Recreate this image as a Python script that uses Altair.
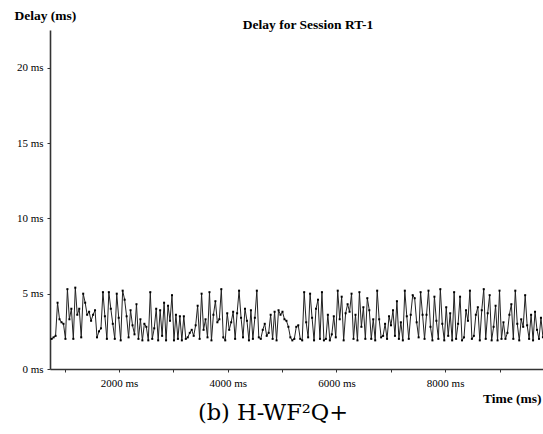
import altair as alt
import pandas as pd

delay_ms = [
    2.0, 2.1, 2.2, 4.4, 3.3, 3.1, 3.0, 2.0, 5.3, 3.3,
    4.0, 2.0, 5.4, 3.6, 4.0, 2.1, 5.0, 4.4, 3.6, 3.8,
    3.2, 3.6, 3.9, 2.1, 2.5, 2.7, 5.1, 3.5, 2.0, 5.1,
    4.0, 3.0, 2.0, 5.0, 3.4, 1.9, 5.2, 4.6, 3.5, 2.1,
    3.9, 2.9, 2.3, 4.3, 2.0, 3.3, 1.9, 3.0, 2.8, 1.9,
    5.1, 2.0, 2.7, 4.0, 1.9, 3.9, 2.2, 4.4, 1.9, 4.2,
    3.2, 4.9, 1.9, 3.6, 2.0, 3.5, 1.9, 3.5, 2.0, 2.1,
    2.4, 2.6, 2.2, 2.9, 4.2, 2.0, 5.0, 2.6, 3.3, 2.1,
    5.1, 1.9, 3.6, 4.5, 3.1, 3.3, 5.3, 2.1, 1.9, 3.7,
    2.6, 3.1, 3.8, 2.0, 3.7, 5.2, 3.4, 2.1, 4.0, 3.2,
    1.9, 3.9, 2.0, 3.4, 5.2, 2.1, 2.0, 2.6, 3.0, 2.2,
    2.4, 3.6, 2.0, 3.8, 1.9, 3.9, 3.6, 3.8, 3.3, 3.2,
    2.8, 2.1, 1.9, 2.0, 2.8, 2.9, 2.0, 1.9, 5.1, 3.1,
    2.1, 5.0, 3.4, 1.9, 4.0, 4.6, 2.0, 5.1, 1.9, 2.0,
    3.6, 1.9, 2.3, 3.5, 2.1, 5.2, 3.3, 4.8, 1.9, 3.7,
    4.3, 3.8, 5.0, 2.0, 3.6, 1.9, 5.1, 2.8, 4.1, 2.0,
    4.7, 3.9, 2.0, 3.3, 1.9, 5.2, 3.3, 2.1, 2.2, 3.0,
    2.0, 3.5, 2.9, 3.9, 2.2, 4.5, 2.0, 3.1, 1.9, 5.2,
    3.5, 2.0, 3.6, 4.9, 4.7, 3.1, 2.1, 5.1, 3.6, 2.0,
    3.6, 5.2, 2.8, 1.9, 4.8, 3.2, 2.0, 5.3, 3.0, 1.9,
    4.1, 2.2, 3.7, 1.9, 5.1, 2.0, 3.0, 4.8, 1.9, 2.1,
    3.9, 3.2, 5.2, 2.0, 2.2, 3.6, 4.1, 1.9, 3.9, 5.3,
    2.0, 3.7, 4.9, 1.9, 2.8, 4.2, 1.9, 5.2, 2.0, 3.1,
    2.0, 2.4, 3.6, 4.3, 2.0, 5.2, 3.0, 1.9, 3.3, 2.8,
    4.9, 2.9, 2.0, 3.6, 1.9, 3.8, 2.6, 2.0, 3.4, 2.1,
]
start_ms = 760
step_ms = 36.3
time_ms = [start_ms + step_ms * i for i in range(len(delay_ms))]

x_ticks = [1000, 2000, 3000, 4000, 5000, 6000, 7000, 8000, 9000]
y_ticks = [0, 5, 10, 15, 20]

title_text = "Delay for Session RT-1"
caption_text = "(b)  H-WF\u00b2Q+"

df = pd.DataFrame({"time": time_ms, "delay": delay_ms})

FONT = "Liberation Serif"

x_enc = alt.X(
    "time:Q",
    scale=alt.Scale(domain=[730, 9800], nice=False, zero=False),
    axis=alt.Axis(
        values=x_ticks,
        labelExpr="datum.value % 2000 == 0 ? datum.value + ' ms' : ''",
        grid=False, domainColor="#333", domainWidth=1.6,
        tickColor="#333", tickSize=3, labelPadding=5,
        labelFont=FONT, labelFontSize=11, labelColor="black",
        title="Time (ms)", titleFont=FONT, titleFontSize=13.5,
        titleFontWeight="bold", titleColor="black",
        titleAnchor="end", titleAlign="right", titleBaseline="middle",
        titleX=491, titleY=29,
    ),
)
y_enc = alt.Y(
    "delay:Q",
    scale=alt.Scale(domain=[0, 22.5], nice=False),
    axis=alt.Axis(
        values=y_ticks,
        labelExpr="datum.value + ' ms'",
        grid=False, domainColor="#333", domainWidth=1.6,
        tickColor="#333", tickSize=3, labelPadding=4,
        labelFont=FONT, labelFontSize=11, labelColor="black",
        title="Delay (ms)", titleFont=FONT, titleFontSize=13.5,
        titleFontWeight="bold", titleColor="black", titleAngle=0,
        titleAlign="left", titleBaseline="middle",
        titleX=-36, titleY=-15,
    ),
)

line = alt.Chart(df).mark_line(color="#222", strokeWidth=1).encode(x=x_enc, y=y_enc)
pts = alt.Chart(df).mark_point(shape="square", size=4, filled=True, color="black", opacity=1).encode(
    x="time:Q", y="delay:Q"
)

title_mark = alt.Chart(pd.DataFrame({"t": [title_text]})).mark_text(
    font=FONT, fontSize=13.5, fontWeight="bold", color="black", align="center", baseline="middle"
).encode(text="t:N", x=alt.value(258), y=alt.value(-5))

caption_mark = alt.Chart(pd.DataFrame({"t": [caption_text]})).mark_text(
    font="DejaVu Serif", fontSize=22.5, fontWeight=300, color="black", align="center", baseline="middle"
).encode(text="t:N", x=alt.value(223), y=alt.value(383))

chart = alt.layer(line, pts, title_mark, caption_mark).properties(
    width=493, height=339,
    autosize=alt.AutoSizeParams(type="none"),
    padding={"left": 50, "top": 30, "right": 0, "bottom": 65},
    background="white",
).configure_view(stroke=None)

chart.save("out.html", embed_options={"renderer": "svg", "actions": False})
